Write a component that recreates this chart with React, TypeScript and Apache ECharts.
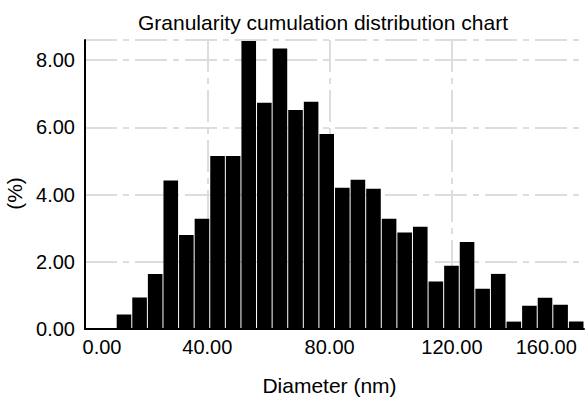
import React, { useEffect, useRef } from "react";
import * as echarts from "echarts";

// Bin edges (nm) along the diameter axis
const binEdges = [
  0, 5.1, 10.2, 15.3, 20.4, 25.5, 30.6, 35.7, 40.8, 45.9, 51.0, 56.1, 61.2,
  66.3, 71.4, 76.5, 81.6, 86.7, 91.8, 96.9, 102.0, 107.1, 112.2, 117.3, 122.4,
  127.5, 132.6, 137.7, 142.8, 147.9, 153.0, 158.1, 163.2,
];
// Percentage per bin
const binValues = [
  0, 0, 0.43, 0.94, 1.64, 4.42, 2.8, 3.28, 5.15, 5.15, 8.57, 6.73, 8.35, 6.52,
  6.76, 5.8, 4.2, 4.44, 4.17, 3.28, 2.87, 3.04, 1.41, 1.88, 2.59, 1.2, 1.64,
  0.22, 0.69, 0.93, 0.72, 0.22,
];
const xTickValues = [0, 40, 80, 120, 160];
const yTickValues = [0, 2, 4, 6, 8];
const xMax = 163.2;
const yMax = 8.6;

const titleText = "Granularity cumulation distribution chart";
const xName = "Diameter (nm)";
const yName = "(%)";

const FONT = "'Liberation Sans', Arial, sans-serif";
const GRID_COLOR = "#dddddd";
const DASH = [32, 6, 6, 6];

export default function App() {
  const ref = useRef<HTMLDivElement>(null);
  useEffect(() => {
    if (!ref.current) return;
    const chart = echarts.init(ref.current, undefined, { renderer: "svg" });
    const data = binValues.map((v, i) => [binEdges[i], binEdges[i + 1], v]);
    chart.setOption({
      animation: false,
      backgroundColor: "#fff",
      title: {
        text: titleText,
        left: 318,
        textAlign: "center",
        top: 7,
        textStyle: { fontSize: 21, fontWeight: "normal", color: "#000", fontFamily: FONT },
      },
      grid: {
        left: 85,
        right: 2,
        top: 40,
        bottom: 69,
        containLabel: false,
        outerBoundsMode: "none",
      },
      xAxis: {
        type: "value",
        min: 0,
        max: xMax,
        interval: 40,
        name: xName,
        nameLocation: "middle",
        nameGap: 46,
        nameTextStyle: { fontSize: 21, color: "#000", fontFamily: FONT, padding: [0, 10, 0, 0] },
        axisLine: { show: true, onZero: false, lineStyle: { color: "#000", width: 2 } },
        axisTick: { show: false },
        axisLabel: {
          margin: 8,
          fontSize: 20,
          color: "#000",
          fontFamily: FONT,
          interval: 0,
          hideOverlap: false,
          showMaxLabel: false,
          formatter: (v: number) => {
            if (!xTickValues.includes(v)) return "";
            const s = v.toFixed(2);
            if (v === xTickValues[0]) return "{first|" + s + "}";
            if (v === xTickValues[xTickValues.length - 1]) return "{last|" + s + "}";
            return "{n|" + s + "}";
          },
          rich: {
            first: { fontSize: 20, color: "#000", fontFamily: FONT, padding: [0, 0, 0, 34] },
            last: { fontSize: 20, color: "#000", fontFamily: FONT, padding: [0, 56, 0, 0] },
            n: { fontSize: 20, color: "#000", fontFamily: FONT },
          },
        },
        splitLine: {
          show: true,
          showMinLine: false,
          showMaxLine: false,
          lineStyle: {
            color: [GRID_COLOR, GRID_COLOR, GRID_COLOR, "rgba(0,0,0,0)"],
            width: 2,
            type: DASH,
          },
        },
      },
      yAxis: {
        type: "value",
        min: 0,
        max: yMax,
        interval: 2,
        name: yName,
        nameLocation: "middle",
        nameRotate: 90,
        nameGap: 56,
        nameTextStyle: { fontSize: 21, color: "#000", fontFamily: FONT, padding: [0, 18, 0, 0] },
        axisLine: { show: true, lineStyle: { color: "#000", width: 2 } },
        axisTick: { show: false },
        axisLabel: {
          margin: 10,
          fontSize: 20,
          color: "#000",
          fontFamily: FONT,
          showMaxLabel: false,
          formatter: (v: number) => (yTickValues.includes(v) ? v.toFixed(2) : ""),
        },
        splitLine: {
          show: true,
          showMinLine: false,
          showMaxLine: true,
          lineStyle: { color: GRID_COLOR, width: 2, type: DASH },
        },
      },
      series: [
        {
          type: "custom",
          z: 2,
          encode: { x: [0, 1], y: 2 },
          data,
          renderItem: (params: any, api: any) => {
            const x0 = api.value(0);
            const x1 = api.value(1);
            const v = api.value(2);
            if (!v) return null;
            const pTop = api.coord([x0, v]);
            const pBot = api.coord([x1, 0]);
            return {
              type: "rect",
              shape: {
                x: pTop[0] + 0.5,
                y: pTop[1],
                width: pBot[0] - pTop[0] - 1,
                height: pBot[1] - pTop[1] - 1,
              },
              style: { fill: "#000" },
            };
          },
        },
      ],
    });
    return () => chart.dispose();
  }, []);
  return (
    <div
      ref={ref}
      style={{ position: "fixed", left: 0, top: 0, width: 586, height: 398 }}
    />
  );
}
